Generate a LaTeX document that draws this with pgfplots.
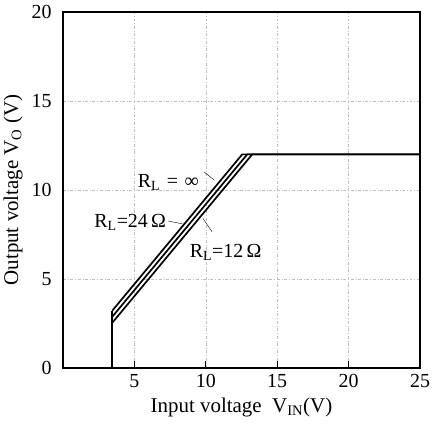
\documentclass[border=0pt]{standalone}
\usepackage{fontspec}
\setmainfont{Liberation Serif}
\usepackage{pgfplots}
\pgfplotsset{compat=1.18}
\begin{document}
\begin{tikzpicture}
\begin{axis}[
  scale only axis,
  width=357bp, height=356bp,
  xmin=0, xmax=25, ymin=0, ymax=20,
  xtick={0,5,10,15,20,25}, ytick={0,5,10,15,20},
  xticklabels={,5,10,15,20,25},
  /pgf/number format/assume math mode=true,
  tick label style={font=\fontsize{20}{23}\selectfont},
  label style={font=\fontsize{21}{24}\selectfont},
  xlabel={Input voltage \ V\textsubscript{IN}(V)},
  ylabel={Output voltage V\textsubscript{O} (V)},
  axis line style={line width=2pt},
  tick style={black, line width=1.2pt},
  major tick length=7pt,
  tick align=inside,
  xtick pos=bottom, ytick pos=left,
  ytick style={draw=none},
  yticklabel style={xshift=-8pt},
  xticklabel style={yshift=-3pt},
  grid=major,
  grid style={gray!50, dash dot, line width=0.5pt},
  xlabel style={yshift=-3pt},
  ylabel style={yshift=2pt},
  clip=false,
]
\addplot[black, line width=1.8pt] coordinates {(3.45,0) (3.45,3.2)};
\addplot[black, line width=1.7pt] coordinates {(3.45,3.22) (12.55,12) (25,12)};
\addplot[black, line width=1.7pt] coordinates {(3.45,2.88) (12.9,12) (25,12)};
\addplot[black, line width=1.7pt] coordinates {(3.45,2.54) (13.25,12) (25,12)};
\draw[black, thin] (axis cs:9.9,11.0) -- (axis cs:10.6,10.55);
\draw[black, thin] (axis cs:7.35,8.26) -- (axis cs:8.35,8.1);
\draw[black, thin] (axis cs:9.8,8.4) -- (axis cs:10.45,7.64);
\node[anchor=east, inner sep=1pt] at (axis cs:9.6,10.4) {\fontsize{20}{23}\selectfont R\textsubscript{L}\,\,=\,\,∞};
\node[anchor=east, inner sep=1pt] at (axis cs:7.3,8.2) {\fontsize{20}{23}\selectfont R\textsubscript{L}=24\,Ω};
\node[anchor=west, inner sep=1pt] at (axis cs:8.8,6.5) {\fontsize{20}{23}\selectfont R\textsubscript{L}=12\,Ω};
\end{axis}
\pgfresetboundingbox
\path[use as bounding box] ([xshift=-63bp,yshift=-63bp]current axis.south west) rectangle ([xshift=12bp,yshift=12bp]current axis.north east);
\end{tikzpicture}
\end{document}
